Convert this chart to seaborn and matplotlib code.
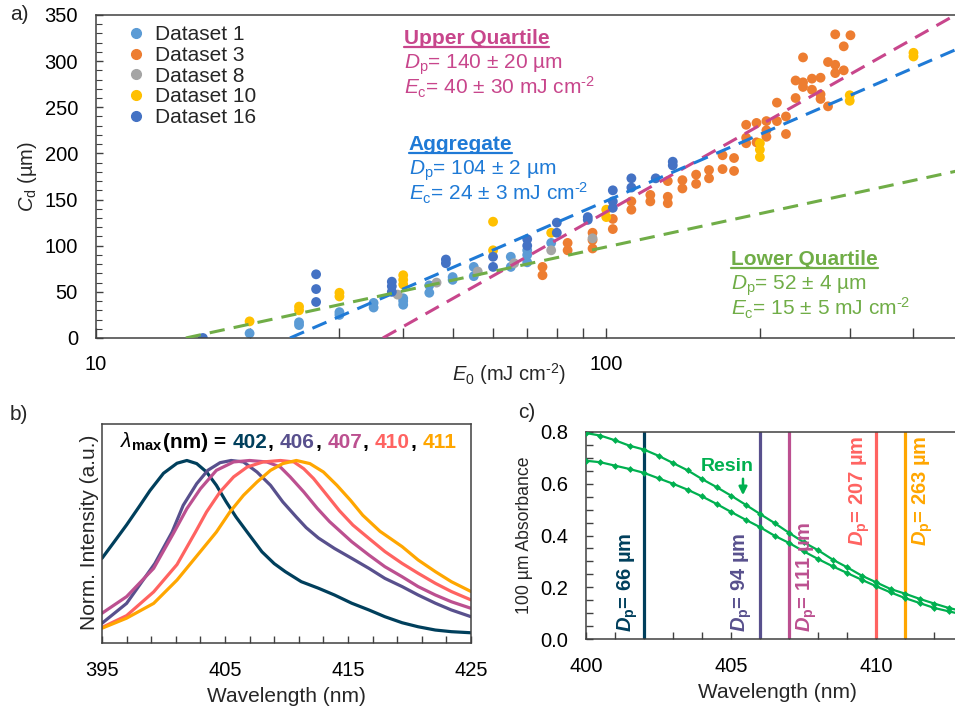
import matplotlib.pyplot as plt
import numpy as np
import pandas as pd
import seaborn as sns
from matplotlib.lines import Line2D

# ---------------- panel a data ----------------
ds1_e0 = [20, 25, 25, 30, 30, 35, 35, 40, 40, 40, 45, 45, 50, 50, 55, 55, 65, 65, 70, 70, 70, 78]
ds1_cd = [5, 17, 14, 28, 25, 38, 33, 43, 40, 36, 57, 49, 66, 63, 77, 67, 88, 77, 95, 90, 82, 103]

ds3_e0 = [75, 75, 84, 84, 94, 94, 94, 103, 103, 112, 112, 122, 122, 132, 132, 132, 141, 141,
          150, 150, 159, 159, 169, 169, 178, 178, 188, 188, 188, 197, 197, 206, 206, 206,
          216, 216, 225, 225, 235, 235, 243, 243, 243, 253, 253, 263, 263, 263, 272, 272,
          281, 281, 281, 292, 292, 301]
ds3_cd = [77, 68, 103, 95, 114, 106, 97, 129, 118, 148, 139, 155, 148, 170, 153, 146, 171, 162,
          177, 167, 182, 173, 198, 183, 195, 181, 231, 217, 211, 233, 212, 235, 225, 218,
          255, 235, 240, 221, 279, 260, 304, 277, 272, 281, 269, 282, 264, 259, 299, 251,
          329, 296, 287, 316, 290, 328]

ds8_e0 = [39, 46.5, 56, 66, 78, 94]
ds8_cd = [47, 60, 72, 81, 95, 108]

ds10_e0 = [20, 25, 25, 30, 30, 40, 40, 40, 60, 60, 78, 100, 100, 200, 200, 200, 300, 300, 400, 400]
ds10_cd = [18, 34, 30, 49, 45, 68, 63, 58, 126, 95, 114, 139, 131, 211, 204, 196, 263, 257, 309, 305]

ds16_e0 = [16.2, 27, 27, 27, 38, 38, 38, 48.5, 48.5, 60, 60, 70, 70, 80, 80, 92, 92,
           103, 103, 103, 112, 112, 125, 135, 135]
ds16_cd = [0, 69, 53, 39, 61, 56, 50, 85, 81, 88, 77, 107, 100, 125, 114, 131, 128,
           160, 148, 141, 173, 163, 173, 191, 187]

dataset_names = ["Dataset 1", "Dataset 3", "Dataset 8", "Dataset 10", "Dataset 16"]
dataset_colors = ["#5b9bd5", "#ed7d31", "#a5a5a5", "#ffc000", "#4472c4"]

# working-curve fits as labelled
fit_names = ["Upper Quartile", "Aggregate", "Lower Quartile"]
fit_dp = [140, 104, 52]
fit_dp_err = ["20", "2", "4"]
fit_ec = [40, 24, 15]
fit_ec_err = ["30", "3", "5"]
fit_colors = ["#c8468c", "#1f7ad6", "#70ad47"]
# dashed lines as they are drawn in the picture (slope Dp, zero crossing Ec)
line_dp = [135.5, 104, 52]
line_ec = [36.5, 24, 15]

# ---------------- panel b data ----------------
wl_402 = [395, 396, 397, 398, 398.9, 400, 401.1, 401.9, 402.7, 403.5, 404.3, 405.1, 405.9,
          406.8, 408, 409, 409.9, 411.2, 412.6, 413.9, 415.3, 416.7, 418, 419.4, 420.7,
          422.1, 423.4, 425]
em_402 = [.464, .555, .647, .745, .835, .930, .985, 1.0, .983, .937, .864, .773, .690,
          .608, .50, .435, .391, .336, .300, .263, .218, .181, .144, .111, .089, .071, .062, .056]
wl_406 = [395, 397, 399.3, 400.7, 401.6, 402.7, 403.6, 404.6, 405.5, 406.5, 407.6, 408.7,
          409.7, 410.8, 411.6, 412.6, 413.9, 415.3, 416.7, 418, 419.4, 420.7, 422.1, 423.4, 425]
em_406 = [.108, .217, .436, .608, .754, .873, .946, .988, 1.0, .992, .937, .864, .773, .690,
          .632, .575, .518, .464, .409, .354, .309, .263, .218, .181, .144]
wl_407 = [395, 397, 399.2, 400.8, 401.9, 403, 404.3, 405.7, 407, 408.4, 409.5, 410.3, 411.4,
          412.5, 413.5, 415.3, 416.7, 418, 419.4, 420.7, 422.1, 423.4, 425]
em_407 = [.163, .254, .409, .60, .736, .845, .946, .992, 1.0, .992, .964, .910, .828, .738,
          .665, .555, .482, .418, .363, .309, .263, .226, .190]
wl_410 = [395, 397, 399.2, 401.1, 402.6, 403.5, 404.6, 405.7, 406.8, 408.1, 409.5, 410.6,
          411.4, 412.2, 413.3, 414.3, 415.4, 416.7, 418, 419.4, 420.7, 422.1, 423.4, 425]
em_410 = [.085, .15, .28, .43, .608, .718, .828, .910, .964, .992, 1.0, .992, .955, .901,
          .809, .725, .646, .573, .501, .436, .382, .327, .282, .236]
wl_411 = [395, 397, 399.2, 401.1, 403, 404.3, 405.4, 406.5, 407.6, 408.7, 409.7, 410.8,
          411.9, 413, 414.1, 415.2, 416.2, 417.6, 419.4, 420.7, 422.1, 423.4, 425]
em_411 = [.081, .136, .217, .345, .501, .608, .718, .809, .882, .946, .983, 1.0, .983,
          .937, .864, .782, .700, .612, .528, .455, .391, .336, .282]
peak_wl = [402, 406, 407, 410, 411]
peak_colors = ["#003f5c", "#58508d", "#bc5090", "#ff6361", "#ffa600"]
dp_um = [66, 94, 111, 207, 263]

# ---------------- panel c data ----------------
wl_c = [400, 400.5, 401, 401.5, 402, 402.5, 403, 403.5, 404, 404.5, 405, 405.5, 406, 406.5,
        407, 407.5, 408, 408.5, 409, 409.5, 410, 410.5, 411, 411.5, 412, 412.5, 413]
abs_resin = [0.796, 0.786, 0.768, 0.747, 0.732, 0.708, 0.680, 0.652, 0.618, 0.587, 0.554,
             0.519, 0.483, 0.448, 0.410, 0.374, 0.343, 0.307, 0.277, 0.245, 0.219, 0.193,
             0.175, 0.155, 0.137, 0.120, 0.107]
abs_other = [0.689, 0.683, 0.670, 0.657, 0.642, 0.621, 0.600, 0.577, 0.551, 0.522, 0.491,
             0.461, 0.432, 0.399, 0.371, 0.339, 0.309, 0.281, 0.255, 0.229, 0.204, 0.180,
             0.158, 0.139, 0.120, 0.107, 0.094]
resin_green = "#00b050"

sns.set_theme(style="white")
plt.rcParams["font.family"] = ["Liberation Sans", "DejaVu Sans"]
plt.rcParams["mathtext.fontset"] = "custom"
plt.rcParams["mathtext.rm"] = "Liberation Sans"
plt.rcParams["mathtext.it"] = "Liberation Sans:italic"
plt.rcParams["mathtext.bf"] = "Liberation Sans:bold"
plt.rcParams["mathtext.bfit"] = "Liberation Sans:italic:bold"
plt.rcParams["axes.edgecolor"] = "#404040"
plt.rcParams["axes.linewidth"] = 1.1
plt.rcParams["xtick.color"] = "#404040"
plt.rcParams["ytick.color"] = "#404040"
plt.rcParams["xtick.labelcolor"] = "black"
plt.rcParams["ytick.labelcolor"] = "black"
plt.rcParams["lines.solid_joinstyle"] = "round"

fig = plt.figure(figsize=(9.55, 7.09), dpi=100)
ax_a = fig.add_axes([0.1005, 0.5233, 0.905, 0.4556])
ax_b = fig.add_axes([0.1068, 0.0931, 0.3864, 0.3089])
ax_c = fig.add_axes([0.6136, 0.0987, 0.392, 0.292])

# ================= panel a =================
df_a = pd.concat([
    pd.DataFrame({"E0": e, "Cd": c, "set": n})
    for e, c, n in zip([ds1_e0, ds3_e0, ds8_e0, ds10_e0, ds16_e0],
                       [ds1_cd, ds3_cd, ds8_cd, ds10_cd, ds16_cd], dataset_names)
])
sns.scatterplot(data=df_a, x="E0", y="Cd", hue="set", hue_order=dataset_names,
                palette=dict(zip(dataset_names, dataset_colors)), s=50, linewidth=0,
                ax=ax_a, zorder=2)
ax_a.set_xscale("log")
ax_a.set_xlim(10, 494)
ax_a.set_ylim(0, 350)

for dp, ec, col in zip(line_dp, line_ec, fit_colors):
    e = np.array([ec, 600])
    ax_a.plot(e, dp * np.log(e / ec), color=col, lw=2.2, dashes=(5, 3), zorder=3)

ax_a.set_xticks([10, 100])
ax_a.set_xticklabels(["10", "100"])
ax_a.set_xticks([20, 30, 40, 50, 60, 70, 80, 90, 200, 300, 400], minor=True)
ax_a.xaxis.set_minor_formatter(plt.NullFormatter())
ax_a.set_yticks(range(0, 351, 50))
ax_a.set_yticks(range(0, 351, 10), minor=True)
ax_a.tick_params(axis="x", which="both", direction="in", length=7, width=1, pad=12,
                 labelsize=14.5, top=False, bottom=True)
ax_a.tick_params(axis="y", which="major", direction="in", length=5, width=1, pad=13,
                 labelsize=14.5, left=True)
ax_a.tick_params(axis="y", which="minor", direction="in", length=4, width=0.8, left=True)
ax_a.set_xlabel(r"$E_\mathrm{0}$ (mJ cm$^{\text{-2}}$)", fontsize=14.5)
ax_a.xaxis.set_label_coords(0.478, -0.072)
ax_a.set_ylabel(r"$C_\mathrm{d}$ (µm)", fontsize=14.5)
ax_a.yaxis.set_label_coords(-0.066, 0.5)

handles = [Line2D([], [], ls="", marker="o", ms=7, color=c) for c in dataset_colors]
ax_a.legend(handles, dataset_names, loc="upper left", bbox_to_anchor=(0.02, 1.0),
            frameon=False, fontsize=15, handletextpad=0.3, labelspacing=0.08,
            borderaxespad=0.1, handlelength=1.2)

head_y = [0.910, 0.582, 0.226]
head_x = [0.356, 0.362, 0.735]
headings = []
for name, dp, dpe, ec, ece, col, x, y in zip(fit_names, fit_dp, fit_dp_err, fit_ec, fit_ec_err,
                                             fit_colors, head_x, head_y):
    t = ax_a.text(x, y, name, color=col, fontsize=15, fontweight="bold",
                  transform=ax_a.transAxes, va="baseline")
    headings.append((t, col, x, y))
    ax_a.text(x, y - 0.077, rf"$D_\mathrm{{p}}$= {dp} ± {dpe} µm", color=col, fontsize=15,
              transform=ax_a.transAxes, va="baseline")
    ax_a.text(x, y - 0.155, rf"$E_\mathrm{{c}}$= {ec} ± {ece} mJ cm$^{{\text{{-2}}}}$",
              color=col, fontsize=15, transform=ax_a.transAxes, va="baseline")

# ================= panel b =================
df_b = pd.concat([
    pd.DataFrame({"wl": w, "I": v, "peak": p})
    for w, v, p in zip([wl_402, wl_406, wl_407, wl_410, wl_411],
                       [em_402, em_406, em_407, em_410, em_411], peak_wl)
])
sns.lineplot(data=df_b, x="wl", y="I", hue="peak", hue_order=peak_wl,
             palette=dict(zip(peak_wl, peak_colors)), lw=2.3, legend=False, ax=ax_b)
ax_b.set_xlim(395, 425)
ax_b.set_ylim(0, 1.2)
ax_b.set_xticks([395, 405, 415, 425])
ax_b.set_xticks(range(395, 426, 2), minor=True)
ax_b.set_yticks([])
ax_b.tick_params(axis="x", which="both", direction="in", length=5, width=1, pad=13,
                 labelsize=14.5, bottom=True)
ax_b.set_xlabel("Wavelength (nm)", fontsize=15)
ax_b.xaxis.set_label_coords(0.5, -0.2)
ax_b.set_ylabel("Norm. Intensity (a.u.)", fontsize=15)
ax_b.yaxis.set_label_coords(-0.008, 0.507)

# ================= panel c =================
for yv in [abs_resin, abs_other]:
    sns.lineplot(x=wl_c, y=yv, color=resin_green, lw=1.6, marker="D", ms=3.5,
                 markeredgewidth=0, ax=ax_c, zorder=3)
for wl, col in zip(peak_wl, peak_colors):
    ax_c.axvline(wl, color=col, lw=2.3, zorder=2)
ax_c.set_xlim(400, 412.9)
ax_c.set_ylim(0, 0.8)
ax_c.set_xticks([400, 405, 410])
ax_c.set_xticks(range(400, 413), minor=True)
ax_c.set_yticks([0, 0.2, 0.4, 0.6, 0.8])
ax_c.set_yticklabels(["0.0", "0.2", "0.4", "0.6", "0.8"])
ax_c.set_yticks(np.arange(0, 0.801, 0.05), minor=True)
ax_c.tick_params(which="both", direction="in", length=5, width=1, pad=13, labelsize=14.5,
                 bottom=True, left=True)
ax_c.set_xlabel("Wavelength (nm)", fontsize=15)
ax_c.xaxis.set_label_coords(0.512, -0.213)
ax_c.set_ylabel("100 µm Absorbance", fontsize=12.7)
ax_c.yaxis.set_label_coords(-0.142, 0.5)

label_x = [401.45, 405.38, 407.59, 409.45, 411.62]
for wl, dp, col, lx in zip(peak_wl, dp_um, peak_colors, label_x):
    s = rf"$\mathbfit{{D}}_\mathbf{{p}}$= {dp} µm"
    if dp > 150:
        ax_c.text(lx, 0.788, s, color=col, rotation=90, ha="center", va="top",
                  fontsize=14.5, fontweight="bold", zorder=4)
    else:
        ax_c.text(lx, 0.027, s, color=col, rotation=90, ha="center", va="bottom",
                  fontsize=14.5, fontweight="bold", zorder=4)

ax_c.text(404.86, 0.665, "Resin", color=resin_green, fontsize=14, fontweight="bold",
          ha="center", va="center")
ax_c.annotate("", xy=(405.41, 0.545), xytext=(405.41, 0.63),
              arrowprops=dict(arrowstyle="-|>", color=resin_green, lw=1.8, mutation_scale=12))

# panel labels
fig.text(10 / 955, 1 - 15 / 709, "a)", fontsize=15, va="center")
fig.text(10 / 955, 1 - 415 / 709, "b)", fontsize=15, va="center")
fig.text(518 / 955, 1 - 413 / 709, "c)", fontsize=15, va="center")

# ---- underline headings and build multi-colour lambda line ----
fig.canvas.draw()
r = fig.canvas.get_renderer()
inv = fig.transFigure.inverted()
for t, col, x, y in headings:
    bb = t.get_window_extent(r)
    yb = ax_a.transAxes.transform((x, y))[1] - 3
    p0 = inv.transform((bb.x0, yb))
    p1 = inv.transform((bb.x1, yb))
    fig.add_artist(Line2D([p0[0], p1[0]], [p0[1], p1[1]], color=col, lw=1.6))

pieces = [(r"$\lambda_{\mathbf{max}}$", "black", 0), ("(nm) =", "black", 1)]
for i, (wl, col) in enumerate(zip(peak_wl, peak_colors)):
    pieces.append((str(wl), col, 0))
    if i < len(peak_wl) - 1:
        pieces.append((",", "black", 1))
xpix = 120
ybase = 709 - 448
space = 0.3 * 15 * 100 / 72
for s, col, gap in pieces:
    t = fig.text(xpix / 955, ybase / 709, s, color=col, fontsize=15, fontweight="bold",
                 va="baseline")
    bb = t.get_window_extent(r)
    xpix = bb.x1 + (space if gap else 0.5)

fig.savefig("out.png", dpi=100)
